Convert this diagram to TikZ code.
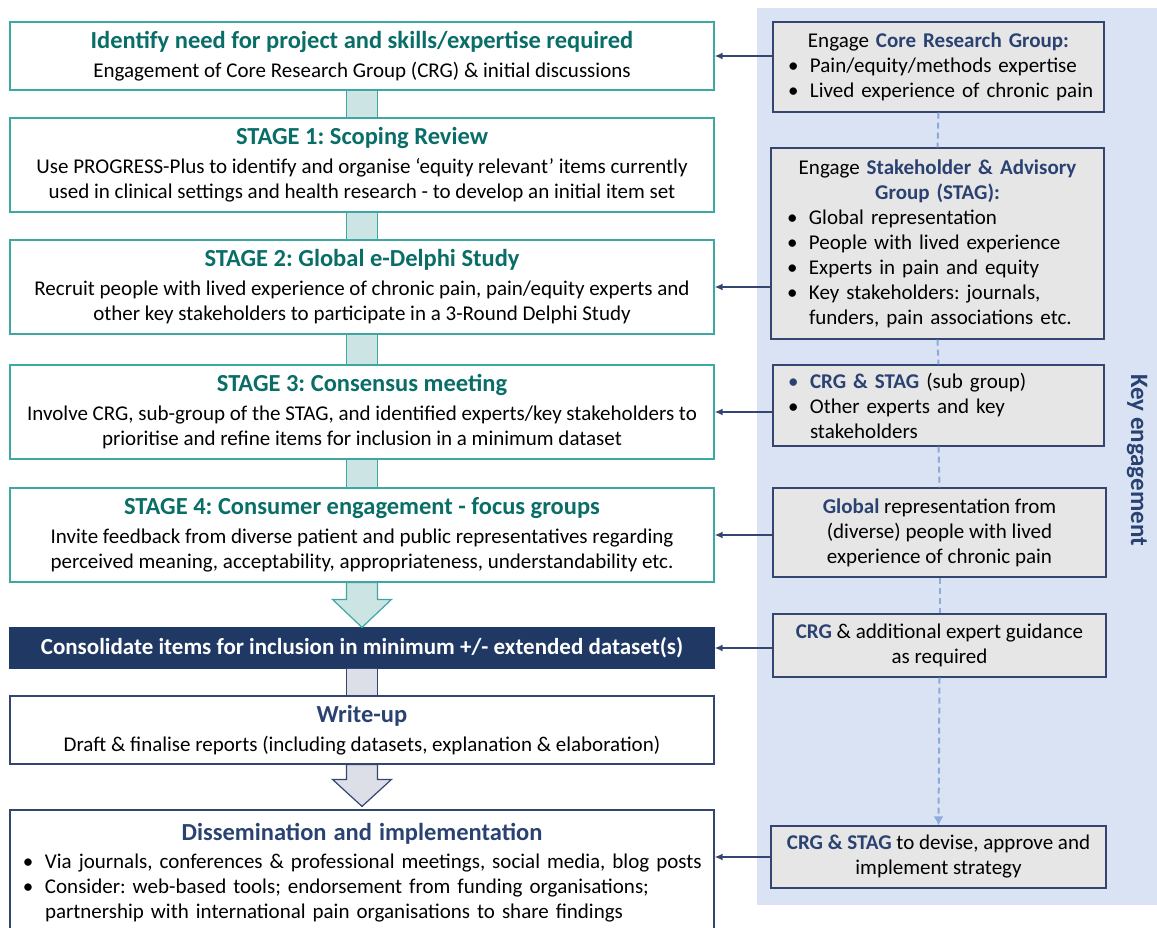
\documentclass[tikz,border=0pt]{standalone}
\usepackage{fontspec}
\setmainfont{Carlito}
\usetikzlibrary{calc}
\usetikzlibrary{arrows.meta}
\frenchspacing

\definecolor{tealline}{HTML}{3DA8A2}
\definecolor{tealtext}{HTML}{0A6E68}
\definecolor{tealbar}{HTML}{CCE5E4}
\definecolor{navyfill}{HTML}{203864}
\definecolor{navytext}{HTML}{2A4272}
\definecolor{navyline}{HTML}{34466F}
\definecolor{greyfill}{HTML}{E7E6E6}
\definecolor{greybar}{HTML}{DCDFE8}
\definecolor{panelblue}{HTML}{DAE3F3}
\definecolor{dashblue}{HTML}{8EAADB}

% bullet in the grey boxes (7.5pt pad + 22pt to the text)
\newcommand{\blt}{\hspace*{7.5pt}\makebox[22pt][l]{\textbullet}}
\newcommand{\bltgap}{\hspace*{29.5pt}}
% bullet in the dissemination box
\newcommand{\dblt}{\hspace*{11pt}\makebox[22pt][l]{\textbullet}}
\newcommand{\tealtitle}[1]{{\color{tealtext}\bfseries\fontsize{24.5}{25}\selectfont #1}}
\newcommand{\navytitle}[1]{{\color{navytext}\bfseries\fontsize{24.5}{25}\selectfont #1}}
\newcommand{\hl}[1]{{\color{navytext}\bfseries #1}}

\tikzset{
  stagebox/.style={draw=tealline,line width=1.2pt,fill=white,minimum width=704pt,
    align=center,inner sep=0pt,font=\fontsize{21}{25}\selectfont},
  navybox/.style={stagebox,draw=navyline},
  groupbox/.style={draw=navyline,line width=1.2pt,fill=greyfill,minimum width=331pt,
    inner xsep=15pt,inner ysep=0pt,font=\fontsize{21}{25}\selectfont},
  listbox/.style={groupbox,inner xsep=7.5pt,text width=316pt,align=left},
  tealbox/.style={draw=tealline,line width=1.2pt,fill=tealbar},
  greybox/.style={draw=navyline,line width=1.2pt,fill=greybar},
  conn/.style={-{Latex[length=8pt,width=7pt]},draw=navyline,line width=1.8pt},
  dashlink/.style={draw=dashblue,line width=2pt,dash pattern=on 6pt off 4pt}
}

\begin{document}
\begin{tikzpicture}[x=1pt,y=-1pt]
  \useasboundingbox (0,0) rectangle (1157,928);
  \fill[panelblue] (757,8) rectangle (1157,905);

  % main stages
  \node[stagebox,minimum height=68pt] (need) at (362,56)
    {\tealtitle{Identify need for project and skills/expertise required}\\[4pt]
     Engagement of Core Research Group (CRG) \& initial discussions};
  \node[stagebox,minimum height=94pt] (stage1) at (362,165)
    {\tealtitle{STAGE 1: Scoping Review}\\[4pt]
     Use PROGRESS-Plus to identify and organise ‘equity relevant’ items currently\\
     used in clinical settings and health research - to develop an initial item set};
  \node[stagebox,minimum height=94pt] (stage2) at (362,287)
    {\tealtitle{STAGE 2: Global e-Delphi Study}\\[4pt]
     Recruit people with lived experience of chronic pain, pain/equity experts and\\
     other key stakeholders to participate in a 3-Round Delphi Study};
  \node[stagebox,minimum height=94pt] (stage3) at (362,412)
    {\tealtitle{STAGE 3: Consensus meeting}\\[4pt]
     Involve CRG, sub-group of the STAG, and identified experts/key stakeholders to\\
     prioritise and refine items for inclusion in a minimum dataset};
  \node[stagebox,minimum height=94pt] (stage4) at (362,535)
    {\tealtitle{STAGE 4: Consumer engagement - focus groups}\\[4pt]
     Invite feedback from diverse patient and public representatives regarding\\
     perceived meaning, acceptability, appropriateness, understandability etc.};
  \node[navybox,fill=navyfill,draw=navyfill,minimum height=40pt,text=white,
        font=\fontsize{23}{25}\selectfont\bfseries] (consol) at (362,648)
    {Consolidate items for inclusion in minimum +/- extended dataset(s)};
  \node[navybox,minimum height=68pt] (writeup) at (362,730)
    {\navytitle{Write-up}\\[4pt]
     Draft \& finalise reports (including datasets, explanation \& elaboration)};
  \node[navybox,minimum height=125pt,text width=700pt,align=left,inner xsep=2pt] (dissem) at (362,872.5)
    {\centerline{\navytitle{Dissemination and implementation}}\vspace{3pt}
     \dblt Via journals, conferences \& professional meetings, social media, blog posts\par
     \dblt Consider: web-based tools; endorsement from funding organisations;\par
     \hspace*{33pt}partnership with international pain organisations to share findings\par};

  % bars and block arrows between stages
  \draw[tealbox] ([xshift=-15.5pt]need.south) rectangle ([xshift=15.5pt]stage1.north);
  \draw[tealbox] ([xshift=-15.5pt]stage1.south) rectangle ([xshift=15.5pt]stage2.north);
  \draw[tealbox] ([xshift=-15.5pt]stage2.south) rectangle ([xshift=15.5pt]stage3.north);
  \draw[tealbox] ([xshift=-15.5pt]stage3.south) rectangle ([xshift=15.5pt]stage4.north);
  \draw[tealbox] ([xshift=-15.5pt]stage4.south) -- ([xshift=-15.5pt,yshift=28pt]consol.north)
    -- ([xshift=-29.5pt,yshift=28pt]consol.north) -- (consol.north)
    -- ([xshift=29.5pt,yshift=28pt]consol.north) -- ([xshift=15.5pt,yshift=28pt]consol.north)
    -- ([xshift=15.5pt]stage4.south) -- cycle;
  \draw[greybox] ([xshift=-15.5pt]consol.south) rectangle ([xshift=15.5pt]writeup.north);
  \draw[greybox] ([xshift=-15.5pt]writeup.south) -- ([xshift=-15.5pt,yshift=30pt]dissem.north)
    -- ([xshift=-29.5pt,yshift=30pt]dissem.north) -- ([yshift=3pt]dissem.north)
    -- ([xshift=29.5pt,yshift=30pt]dissem.north) -- ([xshift=15.5pt,yshift=30pt]dissem.north)
    -- ([xshift=15.5pt]writeup.south) -- cycle;

  % key engagement groups
  \node[listbox,minimum height=90pt] (crg) at (938.5,67)
    {\centerline{Engage \hl{Core Research Group:}}
     \blt Pain/equity/methods expertise\par
     \blt Lived experience of chronic pain\par};
  \node[listbox,minimum width=333pt,minimum height=191pt] (stag) at (937.5,243.5)
    {\centerline{Engage \hl{Stakeholder \& Advisory}}
     \centerline{\hl{Group (STAG):}}
     \blt Global representation\par
     \blt People with lived experience\par
     \blt Experts in pain and equity\par
     \blt Key stakeholders: journals,\par
     \bltgap funders, pain associations etc.\par};
  \node[listbox,minimum height=81pt] (subgrp) at (938.5,405.5)
    {\hspace*{7.5pt}\makebox[22pt][l]{\color{navytext}\textbullet}\hl{CRG \& STAG} (sub group)\par
     \blt Other experts and key\par
     \bltgap stakeholders\par};
  \node[groupbox,minimum width=333pt,minimum height=89pt,align=center] (lived) at (939.5,532.5)
    {\hl{Global} representation from\\
     (diverse) people with lived\\
     experience of chronic pain};
  \node[groupbox,minimum width=333pt,minimum height=63pt,align=center] (expert) at (939.5,645.5)
    {\hl{CRG} \& additional expert guidance\\
     as required};
  \node[groupbox,minimum width=335pt,minimum height=62pt,align=center] (strategy) at (938.5,857)
    {\hl{CRG \& STAG} to devise, approve and\\
     implement strategy};

  \node[rotate=-90,text=navytext,font=\fontsize{25}{28}\selectfont\bfseries] (keyeng) at (1137,460) {Key engagement};

  % dashed links down the panel
  \draw[dashlink] (crg.south) -- (stag.north);
  \draw[dashlink] (stag.south) -- (subgrp.north);
  \draw[dashlink] (subgrp.south) -- (lived.north);
  \draw[dashlink] (lived.south) -- (expert.north);
  \draw[dashlink,-{Latex[length=9pt,width=10pt]}] (expert.south) -- (strategy.north);

  % engagement arrows
  \draw[conn] (crg.west |- need.east) -- (need.east);
  \draw[conn] (stag.west |- stage2.east) -- (stage2.east);
  \draw[conn] (subgrp.west |- stage3.east) -- (stage3.east);
  \draw[conn] (lived.west |- stage4.east) -- (stage4.east);
  \draw[conn] (expert.west |- consol.east) -- (consol.east);
  \draw[conn] (strategy.west) -- (strategy.west -| dissem.east);
\end{tikzpicture}
\end{document}
